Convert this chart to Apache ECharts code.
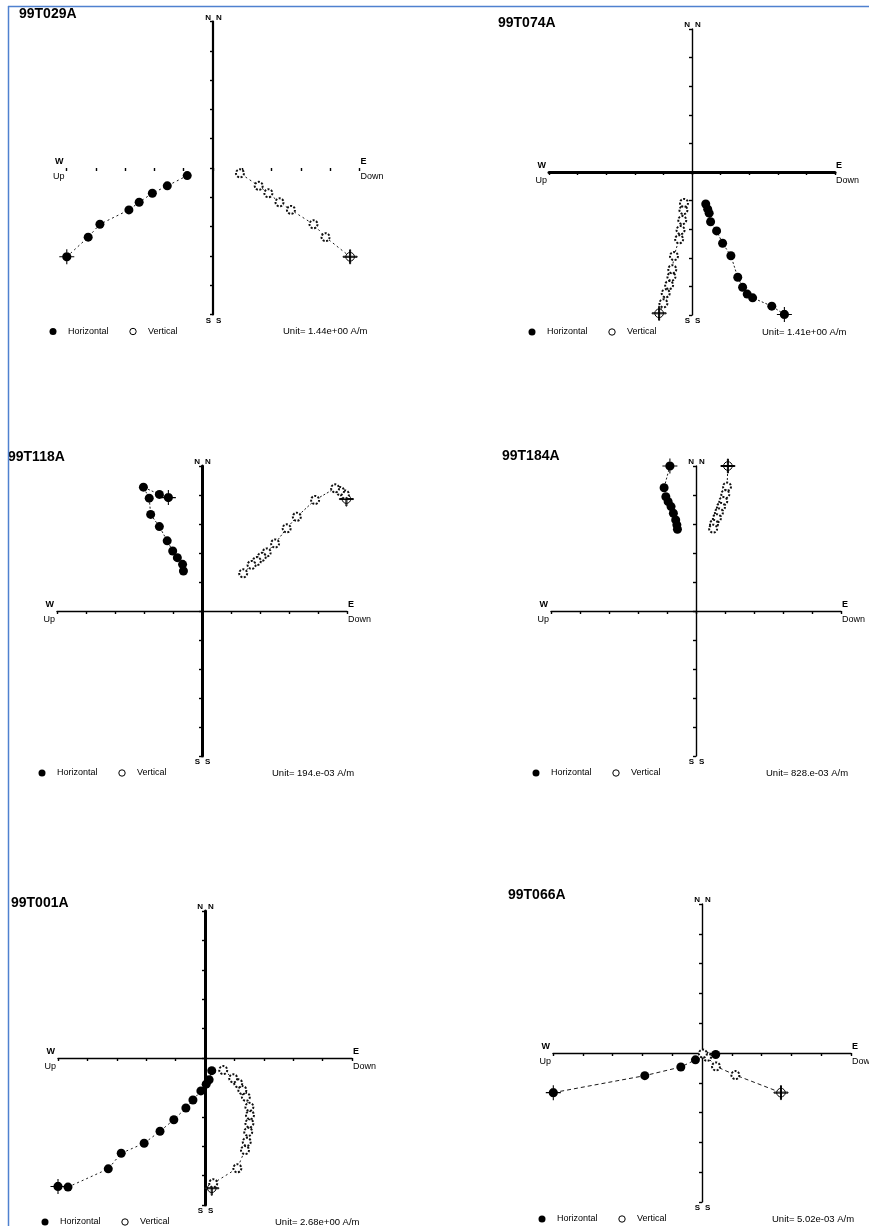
<!DOCTYPE html>
<html>
<head>
<meta charset="utf-8">
<script src="https://cdn.jsdelivr.net/npm/echarts@6/dist/echarts.min.js"></script>
<style>
  html, body { margin: 0; padding: 0; background: #fff; }
  #chart { width: 869px; height: 1226px; }
</style>
</head>
<body>
<div id="chart"></div>
<script>
// Orthogonal demagnetisation (Zijderveld) diagrams, six specimens.
// Coordinates are in axis units (one tick = one unit); first step of each list is the NRM.

const sampleNames = ['99T029A', '99T074A', '99T118A', '99T184A', '99T001A', '99T066A'];
const unitLabels = [
  'Unit= 1.44e+00 A/m', 'Unit= 1.41e+00 A/m', 'Unit= 194.e-03 A/m',
  'Unit= 828.e-03 A/m', 'Unit= 2.68e+00 A/m', 'Unit= 5.02e-03 A/m'
];
const legendNames = ['Horizontal', 'Vertical'];
const axisMin = -5, axisMax = 5, axisStep = 1;

const horiz029 = [[-4.99,-3.03],[-4.26,-2.36],[-3.86,-1.92],[-2.87,-1.43],[-2.52,-1.17],[-2.07,-0.86],[-1.56,-0.61],[-0.88,-0.26]];
const vert029  = [[4.68,-3.03],[3.84,-2.36],[3.43,-1.92],[2.66,-1.43],[2.27,-1.17],[1.89,-0.86],[1.56,-0.61],[0.92,-0.18]];

const horiz074 = [[3.23,-4.98],[2.79,-4.69],[2.12,-4.40],[1.93,-4.27],[1.77,-4.03],[1.60,-3.68],[1.36,-2.93],[1.07,-2.49],[0.86,-2.06],[0.65,-1.74],[0.60,-1.44],[0.55,-1.30],[0.48,-1.12]];
const vert074  = [[-1.15,-4.94],[-1.00,-4.59],[-0.92,-4.24],[-0.80,-3.95],[-0.72,-3.66],[-0.69,-3.40],[-0.63,-2.94],[-0.45,-2.35],[-0.40,-2.03],[-0.34,-1.68],[-0.30,-1.33],[-0.28,-1.08]];

const horiz118 = [[-1.16,3.91],[-1.47,4.02],[-2.02,4.27],[-1.82,3.89],[-1.77,3.33],[-1.47,2.91],[-1.20,2.42],[-1.01,2.07],[-0.85,1.84],[-0.67,1.61],[-0.64,1.38]];
const vert118  = [[4.98,3.86],[4.93,4.02],[4.76,4.14],[4.59,4.23],[3.90,3.83],[3.27,3.25],[2.92,2.85],[2.52,2.33],[2.23,2.02],[2.06,1.87],[1.89,1.72],[1.71,1.59],[1.42,1.30]];

const horiz184 = [[-0.90,5.00],[-1.10,4.25],[-1.04,3.94],[-0.96,3.77],[-0.86,3.60],[-0.78,3.37],[-0.70,3.14],[-0.66,2.97],[-0.64,2.82]];
const vert184  = [[1.10,5.00],[1.07,4.29],[1.01,4.03],[0.94,3.79],[0.86,3.59],[0.79,3.40],[0.72,3.20],[0.62,3.00],[0.59,2.84]];

const horiz001 = [[-5.00,-4.37],[-4.66,-4.39],[-3.29,-3.77],[-2.85,-3.24],[-2.07,-2.90],[-1.53,-2.49],[-1.06,-2.10],[-0.65,-1.70],[-0.41,-1.43],[-0.14,-1.12],[0.04,-0.89],[0.14,-0.74],[0.23,-0.43]];
const vert001  = [[0.23,-4.43],[0.28,-4.26],[1.10,-3.75],[1.36,-3.13],[1.42,-2.85],[1.47,-2.51],[1.51,-2.22],[1.53,-1.94],[1.51,-1.66],[1.39,-1.32],[1.27,-1.09],[1.13,-0.86],[0.96,-0.69],[0.62,-0.41]];

const horiz066 = [[-4.99,-1.33],[-1.92,-0.76],[-0.71,-0.47],[-0.22,-0.23],[0.46,-0.05]];
const vert066  = [[2.65,-1.33],[1.12,-0.74],[0.47,-0.45],[0.17,-0.13],[0.03,-0.02]];

const horizontalSets = [horiz029, horiz074, horiz118, horiz184, horiz001, horiz066];
const verticalSets   = [vert029, vert074, vert118, vert184, vert001, vert066];

// Panel placement: origin (cx, cy) in px, px per unit, axis line widths, title offset.
const panels = [
  { cx: 213, cy: 168,  s: 29.3, xw: 0,   yw: 2.2, dash: [2, 3], ty: -7 },
  { cx: 692, cy: 172,  s: 28.6, xw: 3,   yw: 1.4, dash: [2, 2], ty: -6 },
  { cx: 202, cy: 611,  s: 29.0, xw: 1.4, yw: 3,   dash: [2, 2], ty: -9 },
  { cx: 696, cy: 611,  s: 29.0, xw: 1.4, yw: 1.4, dash: [2, 2], ty: -10 },
  { cx: 205, cy: 1058, s: 29.4, xw: 1.4, yw: 3,   dash: [2, 3], ty: -8 },
  { cx: 702, cy: 1053, s: 29.8, xw: 1.4, yw: 1.4, dash: [4, 3], ty: -9 }
];

// Circle with crossing arms, used for the NRM step.
const NRM_SYMBOL = 'path://M-7,-0.5H7V0.5H-7Z M-0.5,-7H0.5V7H-0.5Z M4.3,0A4.3,4.3,0,1,1,-4.3,0A4.3,4.3,0,1,1,4.3,0Z';

const FONT = '"Liberation Sans", Arial, sans-serif';
const grids = [], xAxes = [], yAxes = [], series = [], graphics = [];

function label(x, y, text, size, align, weight) {
  graphics.push({
    type: 'text', x: x, y: y, silent: true,
    style: { text: text, font: (weight || 'normal') + ' ' + size + 'px ' + FONT,
             fill: '#000', align: align || 'left', verticalAlign: 'middle' }
  });
}

panels.forEach(function (p, i) {
  const half = (axisMax - axisMin) / 2 * p.s;
  const left = p.cx - half, top = p.cy - half, right = p.cx + half, bottom = p.cy + half;
  grids.push({ left: left, top: top, width: 2 * half, height: 2 * half });

  const base = {
    gridIndex: i, type: 'value', min: axisMin, max: axisMax, interval: axisStep,
    axisLabel: { show: false }, splitLine: { show: false },
    axisTick: { show: true, length: 3, lineStyle: { color: '#000', width: 1.4 } }
  };
  xAxes.push(Object.assign({}, base, {
    axisLine: { show: p.xw > 0, onZero: true, lineStyle: { color: '#000', width: p.xw || 1 } }
  }));
  yAxes.push(Object.assign({}, base, {
    axisLine: { show: true, onZero: true, lineStyle: { color: '#000', width: p.yw } }
  }));

  const hData = horizontalSets[i].map(function (pt, k) {
    return k === 0 ? { value: pt, symbol: NRM_SYMBOL, symbolSize: 15 } : pt;
  });
  const vData = verticalSets[i].map(function (pt, k) {
    return k === 0 ? { value: pt, symbol: NRM_SYMBOL, symbolSize: 14,
      itemStyle: { color: '#fff', borderColor: '#000', borderWidth: 1, borderType: 'solid' } } : pt;
  });
  series.push({
    name: legendNames[0], type: 'line', xAxisIndex: i, yAxisIndex: i, data: hData,
    symbol: 'circle', symbolSize: 9, clip: false, z: 3,
    itemStyle: { color: '#000' },
    lineStyle: { color: '#000', width: 0.9, type: p.dash }
  });
  series.push({
    name: legendNames[1], type: 'line', xAxisIndex: i, yAxisIndex: i, data: vData,
    symbol: 'emptyCircle', symbolSize: 8, clip: false, z: 4,
    itemStyle: { color: '#111', borderWidth: 1, borderType: [2, 1.5] },
    lineStyle: { color: '#000', width: 0.9, type: p.dash }
  });

  // Direction labels around the axes
  label(p.cx - 2, top - 4, 'N', 8, 'right', 'bold');
  label(p.cx + 3, top - 4, 'N', 8, 'left', 'bold');
  label(p.cx - 2, bottom + 6, 'S', 8, 'right', 'bold');
  label(p.cx + 3, bottom + 6, 'S', 8, 'left', 'bold');
  label(left - 3, p.cy - 6, 'W', 9, 'right', 'bold');
  label(left - 2, p.cy + 9, 'Up', 9, 'right');
  label(right + 1, p.cy - 6, 'E', 9, 'left', 'bold');
  label(right + 1, p.cy + 9, 'Down', 9, 'left');

  // Sample title
  label(p.cx - 194, top + p.ty, sampleNames[i], 14, 'left', 'bold');

  // Legend row under the diagram
  const ly = bottom + 17;
  graphics.push({ type: 'circle', silent: true, shape: { cx: p.cx - 160, cy: ly, r: 3.5 }, style: { fill: '#000' } });
  label(p.cx - 145, ly, legendNames[0], 9);
  graphics.push({ type: 'circle', silent: true, shape: { cx: p.cx - 80, cy: ly, r: 3.2 }, style: { fill: '#fff', stroke: '#000', lineWidth: 1 } });
  label(p.cx - 65, ly, legendNames[1], 9);
  label(p.cx + 70, ly, unitLabels[i], 9.5);
});

// Page frame lines
graphics.push({ type: 'line', silent: true, shape: { x1: 8.5, y1: 6, x2: 8.5, y2: 1226 }, style: { stroke: '#4f81cf', lineWidth: 1.5 } });
graphics.push({ type: 'line', silent: true, shape: { x1: 8, y1: 6.5, x2: 869, y2: 6.5 }, style: { stroke: '#4f81cf', lineWidth: 1.5 } });

const chart = echarts.init(document.getElementById('chart'), null, { renderer: 'canvas' });
chart.setOption({
  animation: false,
  backgroundColor: '#fff',
  grid: grids,
  xAxis: xAxes,
  yAxis: yAxes,
  series: series,
  graphic: graphics
});
</script>
</body>
</html>
